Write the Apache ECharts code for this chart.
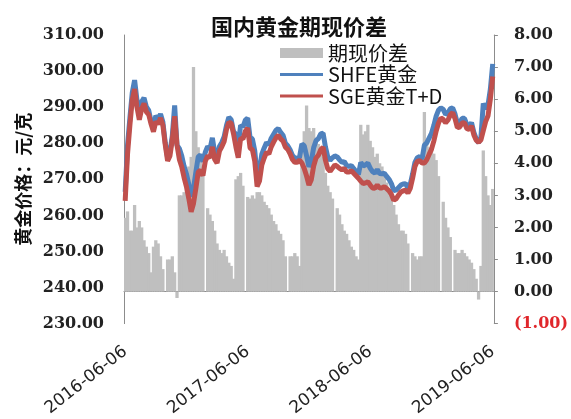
<!DOCTYPE html>
<html><head><meta charset="utf-8">
<script src="https://cdn.jsdelivr.net/npm/echarts@6/dist/echarts.min.js"></script>
<style>html,body{margin:0;padding:0;background:#fff}#c{width:571px;height:419px}</style>
</head><body><div id="c"></div>
<script>
// weekly samples starting 2016-06-06
const tickLabels = ['2016-06-06', '2017-06-06', '2018-06-06', '2019-06-06'];
const leftAxisRange = [230, 310, 10];
const rightAxisRange = [-1, 8, 1];

const spread = [
  2.3, 2.5, 1.9, 1.9, 2.7, 2.0, 2.2, 2.0, 1.6, 1.4,
  1.2, 0.6, 1.4, 1.6, 1.5, 1.1, 0.7, 0, 1.0, 1.0,
  1.1, 0.6, -0.2, 3.0, 3.0, 3.1, 3.5, 3.9, 4.2, 7.0,
  5.0, 4.5, 4.3, 3.9, 0, 2.6, 2.4, 2.2, 1.9, 1.5,
  1.3, 1.2, 1.3, 1.1, 0.9, 0.8, 0.4, 3.5, 3.6, 3.7,
  3.3, 0, 2.95, 2.9, 3.0, 2.9, 3.1, 3.1, 3.0, 2.8,
  2.7, 2.6, 2.4, 2.2, 2.1, 1.9, 1.8, 1.6, 1.1, 0,
  1.1, 1.1, 1.2, 1.1, 0.8, 4.5, 5.0, 5.8, 5.1, 5.0,
  5.1, 4.8, 4.6, 4.4, 4.2, 3.7, 3.3, 3.1, 2.9, 0,
  2.6, 2.4, 2.1, 1.9, 1.8, 1.6, 1.4, 1.3, 1.1, 1.0,
  5.2, 4.9, 5.0, 5.2, 4.7, 4.5, 4.2, 4.3, 4.0, 3.9,
  3.7, 3.4, 3.2, 3.0, 2.7, 2.4, 2.1, 1.9, 1.9, 1.8,
  1.5, 0, 1.2, 1.1, 1.0, 1.1, 1.1, 5.6, 4.7, 4.5,
  4.4, 4.3, 4.1, 3.6, 0, 2.8, 2.3, 2.0, 1.7, 0,
  1.3, 1.2, 1.2, 1.3, 1.2, 1.1, 1.0, 0.9, 0.7, 0.4,
  -0.25, 0.8, 4.4, 3.6, 3.0, 2.7, 3.2
];

const sge = [
  264, 277, 285, 292, 295, 290, 286.5, 289.5, 291, 288.7,
  287.9, 285.3, 283.2, 286, 285.3, 287, 285, 279.6, 275.1, 276.5,
  281, 287.5, 279.5, 275.5, 273.5, 270.5, 268, 264.7, 261, 263.3,
  267.5, 272, 272.5, 271, 275, 276.5, 276, 279, 275.5, 274.5,
  277.8, 279, 280.5, 283.8, 285.8, 285.5, 282.6, 279, 276, 281.4,
  281.2, 283.3, 284.2, 278.7, 278.2, 275, 268, 269.5, 274, 275.9,
  277.5, 277, 279, 280.3, 281.5, 282.2, 281.2, 280.6, 278.9, 278.3,
  277.1, 275.5, 274.7, 274.7, 275.3, 274.5, 273, 270.9, 268.4, 269.9,
  273.7, 275.9, 276.7, 278.2, 278.9, 275.3, 272.9, 272.2, 273.1, 274,
  273.6, 273, 272.6, 273, 272, 272, 272.4, 271.7, 271, 270.3,
  269.5, 268.8, 269, 269.3, 268.4, 267.6, 267.5, 268.4, 267.6, 267.6,
  268, 267.4, 266.8, 265.8, 264.2, 264.6, 265.6, 266.5, 266.8, 267,
  266.2, 267.5, 270.3, 273.6, 275, 275.2, 274.5, 274.5, 275.4, 276.9,
  278.3, 280.6, 283.4, 285.6, 287, 286.6, 285.7, 286.4, 287.9, 288.5,
  286.8, 284.3, 284.5, 285.6, 285.7, 284.1, 283.8, 284.8, 282.3, 280.8,
  280.3, 280.9, 283.5, 286, 287.6, 292.2, 298.5
];

const shfe = [
  266.5, 279.5, 287, 294, 297.5, 292, 288.7, 291.5, 292.6, 290.1,
  289.1, 286, 284.6, 287.6, 286.8, 288.1, 285.9, 280.2, 276.1, 277.5,
  282.1, 290.5, 279.5, 278.5, 276.5, 273.6, 271.5, 268.6, 265.2, 267.5,
  272, 276.2, 276.8, 274.9, 277.5, 279.1, 278.4, 281.5, 277.4, 276,
  279.1, 280.2, 281.8, 284.9, 287.2, 286.5, 283.2, 282.5, 279.6, 285,
  284.5, 286.4, 287, 281.6, 281.2, 277.9, 271.1, 272.6, 277, 278.7,
  280.2, 279.6, 281.4, 282.5, 283.6, 284.1, 283, 282.2, 280, 279.3,
  278.2, 276.6, 275.9, 275.8, 276.1, 279.8, 279.3, 276.5, 273.5, 275,
  278.8, 280.7, 281.3, 282.6, 282.8, 279, 276.2, 275.3, 276, 276.5,
  276.2, 275.4, 274.7, 274.9, 273.8, 273.6, 273.8, 273, 272.1, 271.3,
  274.7, 273.7, 274, 274.5, 273.1, 272.1, 271.7, 272.7, 271.6, 271.5,
  271.7, 270.8, 270, 268.8, 266.9, 267, 267.7, 268.4, 268.7, 268.8,
  267.7, 268.6, 271.5, 274.7, 276, 276.3, 275.6, 279.5, 280.1, 281.4,
  282.7, 284.9, 287.5, 289.2, 289.8, 289.4, 288, 288.4, 289.6, 289.8,
  288.1, 285.5, 285.7, 286.9, 286.9, 285.2, 284.8, 285.7, 283, 281.2,
  280.1, 281.7, 291, 289.6, 290.6, 295, 302
];

// category labels: one per week
const categories = [];
for (let i = 0; i < spread.length; i++) {
  const d = new Date(Date.UTC(2016, 5, 6) + i * 7 * 86400000);
  categories.push(d.toISOString().slice(0, 10));
}

const lineIcon = 'path://M0,0 L43,0 L43,3 L0,3 Z';

const chart = echarts.init(document.getElementById('c'), null, {renderer: 'canvas'});
chart.setOption({
  animation: false,
  backgroundColor: '#fff',
  title: {
    text: '国内黄金期现价差',
    left: 206, top: 11,
    textStyle: {fontSize: 22, fontWeight: 'bold', color: '#111', fontFamily: 'Noto Sans CJK SC'}
  },
  legend: {
    orient: 'vertical', left: 275, top: 38, padding: 5,
    itemWidth: 43, itemHeight: 10, itemGap: 1.5,
    textStyle: {fontSize: 20, color: '#111', fontFamily: 'Noto Sans CJK SC'},
    data: [
      {name: '期现价差', icon: 'rect'},
      {name: 'SHFE黄金', icon: lineIcon},
      {name: 'SGE黄金T+D', icon: lineIcon}
    ]
  },
  grid: {left: 124, right: 73, top: 35, bottom: 92, containLabel: false},
  xAxis: {
    type: 'category', data: categories, boundaryGap: true,
    axisLine: {lineStyle: {color: '#8c8c8c', width: 1}},
    axisTick: {show: false},
    axisLabel: {
      interval: (idx) => idx % 52 === 0,
      formatter: (v, idx) => tickLabels[Math.round(idx / 52)],
      rotate: 38, fontSize: 17, color: '#222', fontFamily: 'DejaVu Sans', margin: 26
    },
    splitLine: {show: false}
  },
  yAxis: [{
    type: 'value', min: leftAxisRange[0], max: leftAxisRange[1], interval: leftAxisRange[2],
    position: 'left',
    axisLine: {show: true, lineStyle: {color: '#8c8c8c', width: 1}},
    axisTick: {show: false},
    splitLine: {show: false},
    axisLabel: {formatter: (v) => v.toFixed(2), fontSize: 16, fontWeight: 'bold', color: '#222', fontFamily: 'DejaVu Serif', margin: 20},
    name: '黄金价格：元/克', nameLocation: 'middle', nameRotate: 90, nameGap: 92,
    nameTextStyle: {fontSize: 18, fontWeight: 'bold', color: '#111', fontFamily: 'Noto Sans CJK SC'}
  }, {
    type: 'value', min: rightAxisRange[0], max: rightAxisRange[1], interval: rightAxisRange[2],
    position: 'right',
    axisLine: {show: true, lineStyle: {color: '#8c8c8c', width: 1}},
    axisTick: {show: true, inside: false, length: 4, lineStyle: {color: '#8c8c8c'}},
    splitLine: {show: false},
    axisLabel: {
      formatter: (v) => v < 0 ? '{neg|(' + Math.abs(v).toFixed(2) + ')}' : v.toFixed(2),
      fontSize: 16, fontWeight: 'bold', color: '#222', fontFamily: 'DejaVu Serif', margin: 20,
      rich: {neg: {fontSize: 16, fontWeight: 'bold', color: '#e0262b', fontFamily: 'DejaVu Serif'}}
    }
  }],
  series: [{
    name: '期现价差', type: 'bar', yAxisIndex: 1, data: spread,
    barCategoryGap: '-40%', itemStyle: {color: '#bfbfbf'}
  }, {
    name: 'SHFE黄金', type: 'line', yAxisIndex: 0, data: shfe,
    symbol: 'none', lineStyle: {width: 5, color: '#4F81BD'}, itemStyle: {color: '#4F81BD'}
  }, {
    name: 'SGE黄金T+D', type: 'line', yAxisIndex: 0, data: sge,
    symbol: 'none', lineStyle: {width: 5, color: '#C0504D'}, itemStyle: {color: '#C0504D'}
  }]
});
</script>
</body></html>
